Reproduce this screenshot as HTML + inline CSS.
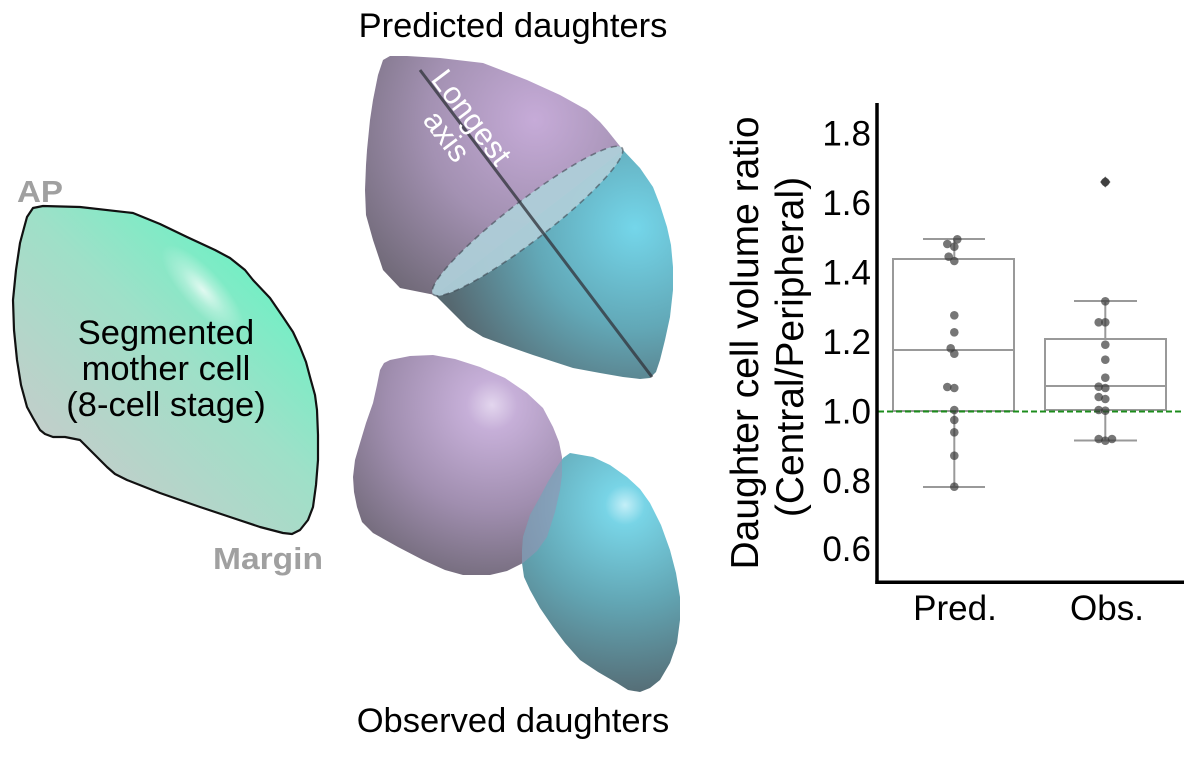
<!DOCTYPE html>
<html><head><meta charset="utf-8"><style>
html,body{margin:0;padding:0;background:#fff;}
svg{display:block;}
text{font-family:"Liberation Sans",Arial,sans-serif;}
</style></head><body>
<svg width="1184" height="760" viewBox="0 0 1184 760" xmlns="http://www.w3.org/2000/svg">
<defs>
  <linearGradient id="gMother" gradientUnits="userSpaceOnUse" x1="60" y1="480" x2="300" y2="230">
    <stop offset="0" stop-color="#c6ccca"/>
    <stop offset="0.5" stop-color="#9ee0c8"/>
    <stop offset="1" stop-color="#5cf7c3"/>
  </linearGradient>
  <radialGradient id="gHiM" cx="0.5" cy="0.5" r="0.5">
    <stop offset="0" stop-color="#ffffff" stop-opacity="0.75"/>
    <stop offset="0.5" stop-color="#ffffff" stop-opacity="0.3"/>
    <stop offset="1" stop-color="#ffffff" stop-opacity="0"/>
  </radialGradient>
  <radialGradient id="gPurP" gradientUnits="userSpaceOnUse" cx="535" cy="120" r="240">
    <stop offset="0" stop-color="#c6abd8"/>
    <stop offset="0.45" stop-color="#a391b2"/>
    <stop offset="1" stop-color="#64606a"/>
  </radialGradient>
  <radialGradient id="gTealP" gradientUnits="userSpaceOnUse" cx="635" cy="228" r="200">
    <stop offset="0" stop-color="#74d6ea"/>
    <stop offset="0.5" stop-color="#62a8b7"/>
    <stop offset="1" stop-color="#566870"/>
  </radialGradient>
  <radialGradient id="gPurO" gradientUnits="userSpaceOnUse" cx="492" cy="405" r="210">
    <stop offset="0" stop-color="#e3d6ee"/>
    <stop offset="0.12" stop-color="#c6afd8"/>
    <stop offset="0.5" stop-color="#a08eaf"/>
    <stop offset="1" stop-color="#615d66"/>
  </radialGradient>
  <radialGradient id="gTealO" gradientUnits="userSpaceOnUse" cx="625" cy="505" r="200">
    <stop offset="0" stop-color="#c4eff8"/>
    <stop offset="0.1" stop-color="#78d4e6"/>
    <stop offset="0.5" stop-color="#62a5b3"/>
    <stop offset="1" stop-color="#54666e"/>
  </radialGradient>
  <clipPath id="cMother">
    <polygon points="33,208 43,206 80,207 133,213 160,224 187,237 215,250 230,258 245,270 253,280 270,298 283,317 293,332 300,347 306,362 310,377 315,395 317,410 318,435 318,460 316,485 313,507 308,520 300,530 292,534 283,533 260,527 230,517 200,507 160,493 127,480 115,474 107,467 95,455 80,440 65,437 53,437 45,434 40,430 33,418 27,407 21,385 17,360 14,330 13,300 16,270 20,243 24,228 27,217"/>
  </clipPath>
  <clipPath id="cTealO">
    <polygon points="570,453 593,457 610,465 627,477 640,489 650,503 661,525 670,550 676,573 680,597 680,620 677,643 670,663 660,680 650,688 640,692 628,690 617,683 598,672 580,660 565,643 553,627 540,608 530,590 524,577 522,563 522,550 523,537 530,515 540,497 548,482 557,467 563,458"/>
  </clipPath>
</defs>

<!-- Mother cell -->
<polygon points="33,208 43,206 80,207 133,213 160,224 187,237 215,250 230,258 245,270 253,280 270,298 283,317 293,332 300,347 306,362 310,377 315,395 317,410 318,435 318,460 316,485 313,507 308,520 300,530 292,534 283,533 260,527 230,517 200,507 160,493 127,480 115,474 107,467 95,455 80,440 65,437 53,437 45,434 40,430 33,418 27,407 21,385 17,360 14,330 13,300 16,270 20,243 24,228 27,217" fill="url(#gMother)"/>
<g clip-path="url(#cMother)">
  <ellipse cx="203" cy="290" rx="58" ry="20" transform="rotate(48 203 290)" fill="url(#gHiM)"/>
</g>
<polygon points="33,208 43,206 80,207 133,213 160,224 187,237 215,250 230,258 245,270 253,280 270,298 283,317 293,332 300,347 306,362 310,377 315,395 317,410 318,435 318,460 316,485 313,507 308,520 300,530 292,534 283,533 260,527 230,517 200,507 160,493 127,480 115,474 107,467 95,455 80,440 65,437 53,437 45,434 40,430 33,418 27,407 21,385 17,360 14,330 13,300 16,270 20,243 24,228 27,217" fill="none" stroke="#111" stroke-width="2.2" stroke-linejoin="round"/>
<text x="166" y="344" font-size="34.5" text-anchor="middle" fill="#000">Segmented</text>
<text x="166" y="380" font-size="34.5" text-anchor="middle" fill="#000">mother cell</text>
<text x="166" y="416" font-size="34.5" text-anchor="middle" fill="#000">(8-cell stage)</text>
<text x="17" y="202" font-size="31" font-weight="bold" fill="#a0a0a0" textLength="46" lengthAdjust="spacingAndGlyphs">AP</text>
<text x="213" y="569" font-size="31" font-weight="bold" fill="#a0a0a0" textLength="110" lengthAdjust="spacingAndGlyphs">Margin</text>

<!-- Predicted daughters -->
<text x="513" y="37" font-size="34.5" text-anchor="middle" fill="#000">Predicted daughters</text>
<polygon points="435,295 400,288 383,270 373,240 366,215 365,190 366,165 367,150 370,120 373,100 378,75 383,60 390,56 407,56 440,58 483,63 527,80 560,95 587,110 600,122 607,130 615,140 623,150" fill="url(#gPurP)"/>
<polygon points="435,295 450,310 467,327 483,337 510,347 533,355 573,368 600,373 623,377 640,379 650,378 656,372 660,360 665,340 670,317 673,290 673,267 671,245 667,227 660,205 653,187 640,168 623,150" fill="url(#gTealP)"/>
<ellipse cx="527.5" cy="221" rx="119.5" ry="20" transform="rotate(-37.7 527.5 221)" fill="#aecdd8" fill-opacity="0.95" stroke="#3e4650" stroke-opacity="0.6" stroke-width="1.6" stroke-dasharray="6 5"/>
<line x1="420" y1="70" x2="652" y2="377" stroke="#33363e" stroke-opacity="0.78" stroke-width="3"/>
<g transform="translate(472,117) rotate(52.9)">
  <text x="0" y="11" font-size="31" text-anchor="middle" fill="#fff">Longest</text>
  <text x="0" y="42" font-size="31" text-anchor="middle" fill="#fff">axis</text>
</g>

<!-- Observed daughters -->
<polygon points="390,360 410,356 433,355 455,359 480,367 505,378 527,393 543,408 553,427 559,442 562,457 562,475 560,490 555,512 547,537 537,551 523,563 507,571 490,575 463,575 445,570 423,560 398,547 373,533 362,522 357,507 354,492 353,477 355,460 360,443 366,423 373,403 377,385 380,370 384,363" fill="url(#gPurO)"/>
<polygon points="570,453 593,457 610,465 627,477 640,489 650,503 661,525 670,550 676,573 680,597 680,620 677,643 670,663 660,680 650,688 640,692 628,690 617,683 598,672 580,660 565,643 553,627 540,608 530,590 524,577 522,563 522,550 523,537 530,515 540,497 548,482 557,467 563,458" fill="url(#gTealO)"/>
<g clip-path="url(#cTealO)">
  <polygon points="390,360 410,356 433,355 455,359 480,367 505,378 527,393 543,408 553,427 559,442 562,457 562,475 560,490 555,512 547,537 537,551 523,563 507,571 490,575 463,575 445,570 423,560 398,547 373,533 362,522 357,507 354,492 353,477 355,460 360,443 366,423 373,403 377,385 380,370 384,363" fill="#9a8fb0" fill-opacity="0.55"/>
</g>
<text x="513" y="732" font-size="34.5" text-anchor="middle" fill="#000">Observed daughters</text>

<!-- Chart -->
<g font-size="35" text-anchor="end" fill="#000">
  <text x="871" y="145.5">1.8</text>
  <text x="871" y="215">1.6</text>
  <text x="871" y="284.5">1.4</text>
  <text x="871" y="354">1.2</text>
  <text x="871" y="423.5">1.0</text>
  <text x="871" y="493">0.8</text>
  <text x="871" y="561">0.6</text>
</g>
<g transform="translate(758,343) rotate(-90)">
  <text x="0" y="0" font-size="39" text-anchor="middle" fill="#000">Daughter cell volume ratio</text>
</g>
<g transform="translate(803,347) rotate(-90)">
  <text x="0" y="0" font-size="39" text-anchor="middle" fill="#000">(Central/Peripheral)</text>
</g>
<text x="955" y="620" font-size="35" text-anchor="middle" fill="#000">Pred.</text>
<text x="1107" y="620" font-size="35" text-anchor="middle" fill="#000">Obs.</text>

<!-- boxes -->
<g fill="none" stroke="#999" stroke-width="2">
  <rect x="893" y="259" width="121" height="152"/>
  <line x1="893" y1="350" x2="1014" y2="350"/>
  <line x1="954.3" y1="239" x2="954.3" y2="259"/>
  <line x1="954.3" y1="411" x2="954.3" y2="487"/>
  <line x1="923" y1="239" x2="985" y2="239"/>
  <line x1="923" y1="487" x2="985" y2="487"/>
  <rect x="1045" y="339" width="121" height="71"/>
  <line x1="1045" y1="386" x2="1166" y2="386"/>
  <line x1="1105.3" y1="301" x2="1105.3" y2="339"/>
  <line x1="1105.3" y1="410" x2="1105.3" y2="440.5"/>
  <line x1="1074" y1="301" x2="1137" y2="301"/>
  <line x1="1074" y1="440.5" x2="1137" y2="440.5"/>
</g>

<!-- dashed reference -->
<line x1="878" y1="411.5" x2="1184" y2="411.5" stroke="#1c8c1c" stroke-width="2" stroke-dasharray="6 3"/>

<!-- dots -->
<g fill="#3c3c3c" fill-opacity="0.7">
  <circle cx="957.3" cy="239.3" r="4.3"/>
  <circle cx="947.3" cy="244" r="4.3"/>
  <circle cx="954.3" cy="246.7" r="4.3"/>
  <circle cx="948.7" cy="256.7" r="4.3"/>
  <circle cx="954.3" cy="261" r="4.3"/>
  <circle cx="954.3" cy="315.3" r="4.3"/>
  <circle cx="954.3" cy="332.3" r="4.3"/>
  <circle cx="950.7" cy="348.3" r="4.3"/>
  <circle cx="954.3" cy="353.7" r="4.3"/>
  <circle cx="947.3" cy="387" r="4.3"/>
  <circle cx="954.3" cy="388" r="4.3"/>
  <circle cx="954.3" cy="410" r="4.3"/>
  <circle cx="954.3" cy="420" r="4.3"/>
  <circle cx="954.3" cy="432.3" r="4.3"/>
  <circle cx="954.3" cy="455.7" r="4.3"/>
  <circle cx="954.3" cy="486.7" r="4.3"/>

  <circle cx="1105.3" cy="301.3" r="4.3"/>
  <circle cx="1098.7" cy="322.3" r="4.3"/>
  <circle cx="1105.3" cy="322.3" r="4.3"/>
  <circle cx="1105.3" cy="344.7" r="4.3"/>
  <circle cx="1105.3" cy="359.7" r="4.3"/>
  <circle cx="1105.3" cy="377.7" r="4.3"/>
  <circle cx="1098.7" cy="386.7" r="4.3"/>
  <circle cx="1105.3" cy="388" r="4.3"/>
  <circle cx="1098.7" cy="397" r="4.3"/>
  <circle cx="1105.3" cy="399" r="4.3"/>
  <circle cx="1098.7" cy="410" r="4.3"/>
  <circle cx="1105.3" cy="410.7" r="4.3"/>
  <circle cx="1098.7" cy="439" r="4.3"/>
  <circle cx="1105.3" cy="440.7" r="4.3"/>
  <circle cx="1112" cy="439" r="4.3"/>
  <circle cx="1105.3" cy="182" r="4.3"/>
</g>
<polygon points="1105.3,176.5 1110.5,182 1105.3,187.5 1100.1,182" fill="#333" fill-opacity="0.8"/>

<!-- spines -->
<line x1="877" y1="103" x2="877" y2="584" stroke="#000" stroke-width="3.5"/>
<line x1="875.3" y1="582.3" x2="1184" y2="582.3" stroke="#000" stroke-width="3.5"/>
</svg>
</body></html>
